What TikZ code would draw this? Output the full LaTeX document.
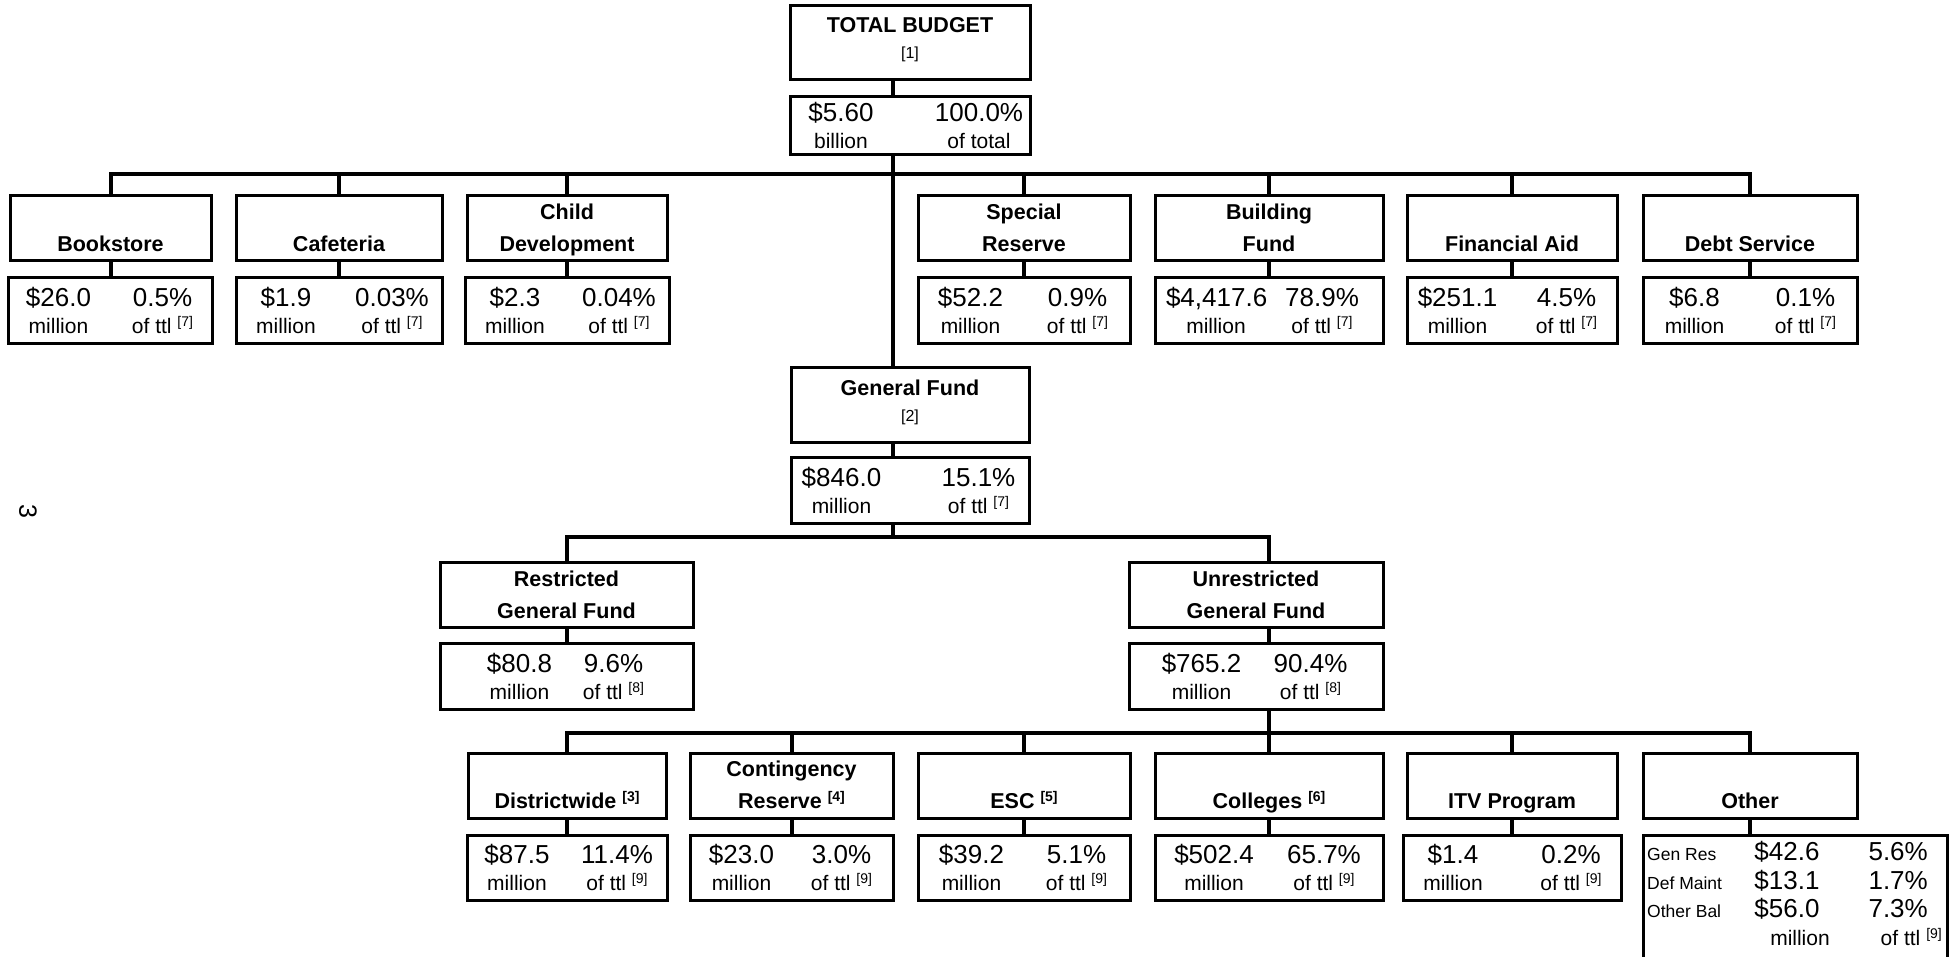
\documentclass[tikz,border=0pt]{standalone}
\usepackage{fontspec}
\setmainfont{Liberation Sans}
\usepackage{tikz}
\usetikzlibrary{positioning,calc}

% footnote mark and strut for the title lines
\newcommand{\fn}[1]{\raisebox{7pt}{\fontsize{14}{14}\selectfont[#1]}}
\newcommand{\hstrut}{\rule[-5pt]{0pt}{24pt}}
% amount and share, two columns #1 apart
\newcommand{\amt}[5]{%
  \parbox[b]{100pt}{\centering\fontsize{26}{27}\selectfont #2\\\fontsize{21}{27}\selectfont #3}%
  \hspace{\dimexpr #1-100pt\relax}%
  \parbox[b]{100pt}{\centering\fontsize{26}{27}\selectfont #4\\\fontsize{21}{27}\selectfont #5}}

\begin{document}
\begin{tikzpicture}[x=1pt,y=-1pt,
  unitbox/.style={draw, line width=3pt, inner sep=0pt, minimum height=65pt,
    align=center, font=\fontsize{21.5}{32}\selectfont\bfseries},
  headbox/.style={unitbox, minimum height=75pt, font=\fontsize{21.5}{26}\selectfont\bfseries},
  valbox/.style={draw, line width=3pt, inner sep=0pt, minimum height=66pt},
  numtxt/.style={inner sep=0pt, font=\fontsize{26}{26}\selectfont},
  unittxt/.style={inner sep=0pt, font=\fontsize{21}{21}\selectfont},
  smalltxt/.style={inner sep=0pt, font=\fontsize{17.5}{17.5}\selectfont},
  link/.style={line width=4pt}]
    \useasboundingbox (0,0) rectangle (1954,956);

    % page number
    \node[inner sep=0pt, font=\fontsize{25}{25}\selectfont, rotate=-90] (pgno) at (28,511) {3};

    % Total budget
    \node[headbox, minimum width=240pt, minimum height=74pt] (tot) at (910,42)
        {TOTAL BUDGET\\{\mdseries\fontsize{16}{26}\selectfont [1]\rule[-8pt]{0pt}{0pt}}};
    \node[valbox, minimum width=240pt, minimum height=58pt] (totv) at (910,125)
        {\amt{138pt}{\$5.60}{billion}{100.0\%}{of total}};

    % Funds beside the general fund
    \node[unitbox, minimum width=201pt] (bks) at (110.5,228) {\hstrut\\\hstrut Bookstore};
    \node[valbox, minimum width=201pt] (bksv) at (110.5,310) {\amt{104pt}{\$26.0}{million}{0.5\%}{of ttl \fn{7}}};
    \node[unitbox, minimum width=206pt] (caf) at (339,228) {\hstrut\\\hstrut Cafeteria};
    \node[valbox, minimum width=206pt] (cafv) at (339,310) {\amt{106pt}{\$1.9}{million}{0.03\%}{of ttl \fn{7}}};
    \node[unitbox, minimum width=200pt] (cdv) at (567,228) {\hstrut Child\\\hstrut Development};
    \node[valbox, minimum width=200pt] (cdvv) at (567,310) {\amt{104pt}{\$2.3}{million}{0.04\%}{of ttl \fn{7}}};
    \node[unitbox, minimum width=212pt] (spr) at (1024,228) {\hstrut Special\\\hstrut Reserve};
    \node[valbox, minimum width=212pt] (sprv) at (1024,310) {\amt{107pt}{\$52.2}{million}{0.9\%}{of ttl \fn{7}}};
    \node[unitbox, minimum width=228pt] (bld) at (1269,228) {\hstrut Building\\\hstrut Fund};
    \node[valbox, minimum width=228pt] (bldv) at (1269,310) {\amt{106pt}{\$4,417.6}{million}{78.9\%}{of ttl \fn{7}}};
    \node[unitbox, minimum width=210pt] (fin) at (1512,228) {\hstrut\\\hstrut Financial Aid};
    \node[valbox, minimum width=210pt] (finv) at (1512,310) {\amt{109pt}{\$251.1}{million}{4.5\%}{of ttl \fn{7}}};
    \node[unitbox, minimum width=214pt] (dbt) at (1750,228) {\hstrut\\\hstrut Debt Service};
    \node[valbox, minimum width=214pt] (dbtv) at (1750,310) {\amt{111pt}{\$6.8}{million}{0.1\%}{of ttl \fn{7}}};

    % General fund
    \node[headbox, minimum width=238pt] (gen) at (910,404.5)
        {General Fund\\{\mdseries\fontsize{16}{26}\selectfont [2]\rule[-8pt]{0pt}{0pt}}};
    \node[valbox, minimum width=238pt] (genv) at (910,490) {\amt{137pt}{\$846.0}{million}{15.1\%}{of ttl \fn{7}}};

    \node[unitbox, minimum width=253pt] (rgf) at (566.5,595) {\hstrut Restricted\\\hstrut General Fund};
    \node[valbox, minimum width=253pt] (rgfv) at (566.5,676) {\amt{94pt}{\$80.8}{million}{9.6\%}{of ttl \fn{8}}};
    \node[unitbox, minimum width=254pt] (ugf) at (1256,595) {\hstrut Unrestricted\\\hstrut General Fund};
    \node[valbox, minimum width=254pt] (ugfv) at (1256,676) {\amt{109pt}{\$765.2}{million}{90.4\%}{of ttl \fn{8}}};

    % Unrestricted general fund split
    \node[unitbox, minimum width=198pt] (dst) at (567,785.5) {\hstrut\\\hstrut Districtwide \fn{3}};
    \node[valbox, minimum width=198pt, minimum height=65pt] (dstv) at (567,867.5) {\amt{100pt}{\$87.5}{million}{11.4\%}{of ttl \fn{9}}};
    \node[unitbox, minimum width=203pt] (cnt) at (791.5,785.5) {\hstrut Contingency\\\hstrut Reserve \fn{4}};
    \node[valbox, minimum width=203pt, minimum height=65pt] (cntv) at (791.5,867.5) {\amt{100pt}{\$23.0}{million}{3.0\%}{of ttl \fn{9}}};
    \node[unitbox, minimum width=212pt] (esc) at (1024,785.5) {\hstrut\\\hstrut ESC \fn{5}};
    \node[valbox, minimum width=212pt, minimum height=65pt] (escv) at (1024,867.5) {\amt{105pt}{\$39.2}{million}{5.1\%}{of ttl \fn{9}}};
    \node[unitbox, minimum width=228pt] (col) at (1269,785.5) {\hstrut\\\hstrut Colleges \fn{6}};
    \node[valbox, minimum width=228pt, minimum height=65pt] (colv) at (1269,867.5) {\amt{110pt}{\$502.4}{million}{65.7\%}{of ttl \fn{9}}};
    \node[unitbox, minimum width=210pt] (itv) at (1512,785.5) {\hstrut\\\hstrut ITV Program};
    \node[valbox, minimum width=210pt, minimum height=65pt] (itvv) at (1512,867.5) {\amt{118pt}{\$1.4}{million}{0.2\%}{of ttl \fn{9}}};
    \node[unitbox, minimum width=214pt] (oth) at (1750,785.5) {\hstrut\\\hstrut Other};
    \node[valbox, minimum width=304pt, minimum height=145pt] (othv) at (1795,907.5) {};

    % Other, broken down
    \node[smalltxt, anchor=base west] (othl1) at (1647,860) {Gen Res};
    \node[numtxt, anchor=base] (otha1) at (1787,860) {\$42.6};
    \node[numtxt, anchor=base east] (othp1) at (1928,860) {5.6\%};
    \node[smalltxt, anchor=base west] (othl2) at (1647,889) {Def Maint};
    \node[numtxt, anchor=base] (otha2) at (1787,889) {\$13.1};
    \node[numtxt, anchor=base east] (othp2) at (1928,889) {1.7\%};
    \node[smalltxt, anchor=base west] (othl3) at (1647,917) {Other Bal};
    \node[numtxt, anchor=base] (otha3) at (1787,917) {\$56.0};
    \node[numtxt, anchor=base east] (othp3) at (1928,917) {7.3\%};
    \node[unittxt, anchor=base] (othm) at (1800,945) {million};
    \node[unittxt, anchor=base east] (otht) at (1942,945) {of ttl \fn{9}};

    % Spine and bars
    \coordinate (spine) at (893,0);
    \coordinate (bar1) at (0,174);
    \coordinate (bar2) at (0,537);
    \coordinate (bar3) at (0,733);

    \draw[link] (tot.south -| spine) -- (totv.north -| spine);
    \draw[link] (totv.south -| spine) -- (gen.north -| spine);
    \draw[link] (gen.south -| spine) -- (genv.north -| spine);
    \draw[link] (genv.south -| spine) -- (bar2 -| spine);

    \draw[link] (bks.north) -- (bks.north |- bar1) -- (dbt.north |- bar1) -- (dbt.north);
    \draw[link] (caf.north |- bar1) -- (caf.north);
    \draw[link] (cdv.north |- bar1) -- (cdv.north);
    \draw[link] (spr.north |- bar1) -- (spr.north);
    \draw[link] (bld.north |- bar1) -- (bld.north);
    \draw[link] (fin.north |- bar1) -- (fin.north);

    \draw[link] (bks.south) -- (bksv.north);
    \draw[link] (caf.south) -- (cafv.north);
    \draw[link] (cdv.south) -- (cdvv.north);
    \draw[link] (spr.south) -- (sprv.north);
    \draw[link] (bld.south) -- (bldv.north);
    \draw[link] (fin.south) -- (finv.north);
    \draw[link] (dbt.south) -- (dbtv.north);

    \draw[link] (rgf.north) -- (rgf.north |- bar2) -- (col.north |- bar2) -- (col.north |- ugf.north);
    \draw[link] (rgf.south) -- (rgfv.north);
    \draw[link] (ugf.south -| col.north) -- (ugfv.north -| col.north);
    \draw[link] (ugfv.south -| col.north) -- (col.north |- bar3);

    \draw[link] (dst.north) -- (dst.north |- bar3) -- (oth.north |- bar3) -- (oth.north);
    \draw[link] (cnt.north |- bar3) -- (cnt.north);
    \draw[link] (esc.north |- bar3) -- (esc.north);
    \draw[link] (col.north |- bar3) -- (col.north);
    \draw[link] (itv.north |- bar3) -- (itv.north);

    \draw[link] (dst.south) -- (dstv.north);
    \draw[link] (cnt.south) -- (cntv.north);
    \draw[link] (esc.south) -- (escv.north);
    \draw[link] (col.south) -- (colv.north);
    \draw[link] (itv.south) -- (itvv.north);
    \draw[link] (oth.south) -- (othv.north -| oth.south);
\end{tikzpicture}
\end{document}
